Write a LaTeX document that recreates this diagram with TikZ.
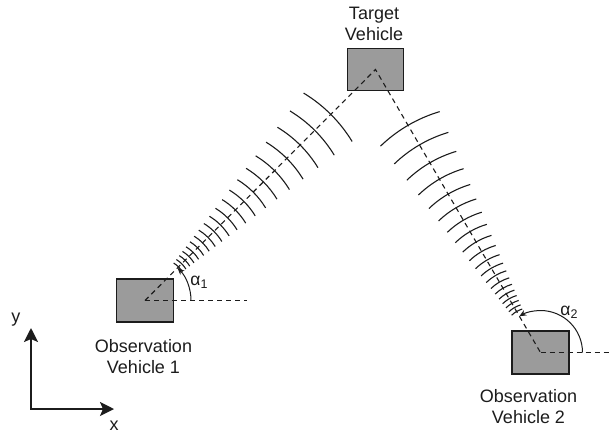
\documentclass[tikz,border=0pt]{standalone}
\usepackage{fontspec}
\setmainfont{Liberation Sans}
\usetikzlibrary{arrows.meta,calc}
\definecolor{boxgray}{RGB}{155,155,155}
\definecolor{ink}{RGB}{28,28,28}
\begin{document}
\begin{tikzpicture}[x=1pt,y=1pt,
  vehicle/.style={draw=ink, line width=1.8pt, fill=boxgray, minimum width=56pt, minimum height=42pt, inner sep=0pt},
  lbl/.style={font=\fontsize{18}{20.5}\selectfont, text=ink, align=center, inner sep=0pt},
  anglbl/.style={font=\fontsize{17.5}{19}\selectfont, text=ink, inner sep=0pt},
  sight/.style={draw=ink, line width=1.1pt, dash pattern=on 5pt off 4pt},
  wave/.style={draw=ink, line width=1.1pt},
  axisline/.style={draw=ink, line width=1.8pt, {Stealth[length=14pt,width=14pt,inset=3pt]}-{Stealth[length=14pt,width=14pt,inset=3pt]}},
  angarrow/.style={draw=ink, line width=1pt, -{Stealth[length=7pt,width=6pt]}}]
\useasboundingbox (0,0) rectangle (610,-437);

% vehicles
\node[vehicle] (target) at (375.5,-69.5) {};
\node[vehicle, minimum width=57pt, minimum height=43pt] (box1) at (145,-300.5) {};
\node[vehicle, minimum width=57pt, minimum height=43pt] (box2) at (540.5,-352.5) {};

% labels
\node[lbl] (tlab) at (374,-24) {Target\\Vehicle};
\node[lbl] (lab1) at (143.5,-356.6) {Observation\\Vehicle 1};
\node[lbl] (lab2) at (528.5,-406.6) {Observation\\Vehicle 2};

% lines of sight
\coordinate (h1) at (247,-300.5);
\coordinate (h2) at (610,-352.5);
\draw[sight] (box1.center) -- (target.center) -- (box2.center);
\draw[sight] (box1.center) -- (h1);
\draw[sight] (box2.center) -- (h2);

% wave fronts
\foreach \nm/\ang in {box1/45.06, box2/120.25}{
  \foreach \i in {0,...,19}{
    \pgfmathsetmacro\dd{263/(1.0943^\i)}
    \pgfmathsetmacro\rr{0.55*\dd}
    \pgfmathsetmacro\oo{0.45*\dd}
    \pgfmathsetmacro\sa{\ang-13.7}
    \pgfmathsetmacro\ea{\ang+13.7}
    \draw[wave] ($(\nm.center)+(\ang:\oo)+(\sa:\rr)$) arc[start angle=\sa, end angle=\ea, radius=\rr];
  }
}

% angles
\draw[angarrow] ($(box1.center)+(46,0)$) arc[start angle=0, end angle=45.06, radius=46];
\draw[angarrow] ($(box2.center)+(42,0)$) arc[start angle=0, end angle=120.25, radius=42];
\node[anglbl] (al1) at (199,-282.3) {α\raisebox{-3.5pt}{\fontsize{12.5}{12.5}\selectfont 1}};
\node[anglbl] (al2) at (569,-312.5) {α\raisebox{-3.5pt}{\fontsize{12.5}{12.5}\selectfont 2}};

% axes
\coordinate (org) at (31,-409);
\coordinate (ytip) at (31,-328);
\coordinate (xtip) at (114,-409);
\draw[axisline] (ytip) -- (org) -- (xtip);
\node[lbl] (ylab) at (16,-320) {y};
\node[lbl] (xlab) at (114,-425.7) {x};
\end{tikzpicture}
\end{document}
